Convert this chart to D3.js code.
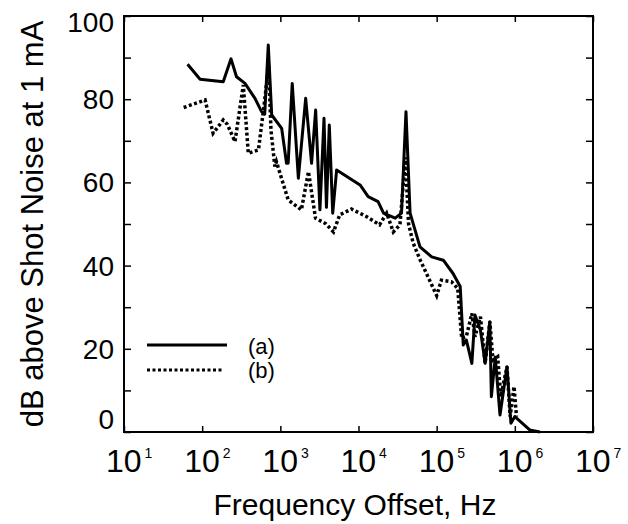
<!DOCTYPE html>
<html>
<head>
<meta charset="utf-8">
<script src="https://cdn.jsdelivr.net/npm/d3@7"></script>
<style>
  body { margin: 0; background: #fff; }
  svg { display: block; }
</style>
</head>
<body>
<svg width="628" height="524"></svg>
<script>
// trace (a): frequency offset (Hz) and dB above shot noise
var freqA = [65, 94, 186, 234, 275, 353, 474, 575, 631, 701, 776, 1040, 1200, 1260, 1420,
    1700, 2110, 2510, 2830, 3210, 3620, 3890, 4230, 4680, 5250, 10470, 13300, 17800,
    20900, 29500, 35500, 40500, 45700, 61200, 86300, 121600, 162000, 200000, 219000,
    240000, 282000, 309000, 363000, 417000, 479000, 501000, 562000, 646000, 794000,
    891000, 1000000, 1550000, 2090000];
var dbA = [88.4, 84.8, 84.2, 89.7, 85.4, 83.8, 80.2, 77, 76.4, 93, 76.2, 73, 64.6, 64.6, 83.8,
    61, 80.2, 64.6, 77.4, 53.4, 75.4, 54, 73.8, 52.6, 63, 59.4, 56.6, 55.4,
    52.6, 51.4, 52.6, 77, 52.6, 44.5, 42.1, 41.3, 38.1, 35, 20.9,
    22.1, 16.5, 28.1, 24.5, 16.5, 26.5, 8.5, 18, 4.1, 15.7,
    2.1, 3.7, 0.5, 0];

// trace (b)
var freqB = [58, 109, 138, 186, 209, 263, 336, 389, 525, 631, 708, 759, 851, 891, 1050,
    1260, 1860, 2290, 2820, 3800, 4790, 5750, 8130, 12600, 18600, 22900, 27900, 33900,
    39800, 43700, 50100, 61700, 77600, 100000, 115000, 155000, 186000, 209000, 240000,
    282000, 309000, 363000, 417000, 479000, 525000, 603000, 661000, 794000, 871000,
    977000, 1050000];
var dbB = [78, 79.8, 71.8, 75, 74, 69.8, 83.4, 67, 67.8, 79.8, 88, 72.6, 63.8, 65, 60.6,
    55.8, 53.4, 62.6, 51.4, 50.1, 48.1, 52.2, 53.6, 51.8, 49.8, 52.6, 48.1, 49.8,
    66, 50, 45.4, 41.3, 37.3, 32.8, 36.5, 36.1, 34.5, 22.5, 23,
    28.5, 22.9, 27.7, 16.5, 26.5, 17.3, 18.1, 8.5, 15.7, 3.7,
    10.9, 3.7];

var xTicks = [1, 2, 3, 4, 5, 6, 7];   // decade exponents
var yTicks = [0, 20, 40, 60, 80, 100];
var yMinor = [0, 10, 20, 30, 40, 50, 60, 70, 80, 90, 100];
var legendNames = ['(a)', '(b)'];

var svg = d3.select('svg');
var font = "'Liberation Sans', Arial, sans-serif";

// plot box ('top' is taken by window, so prefix)
var pLeft = 124, pRight = 593, pTop = 16, pBottom = 432;

var x = d3.scaleLog()
    .domain([10, 1e7])
    .range([pLeft, pRight]);
var y = d3.scaleLinear()
    .domain([0, 100])
    .range([pBottom, pTop]);

var decades = xTicks.map(function(e) { return Math.pow(10, e); });

// inward ticks on all four sides
svg.append('g')
    .attr('transform', 'translate(0,' + pBottom + ')')
    .call(d3.axisBottom(x).tickValues(decades).tickSize(-6).tickFormat(''))
    .call(function(g) { g.select('.domain').remove(); });
svg.append('g')
    .attr('transform', 'translate(0,' + pTop + ')')
    .call(d3.axisTop(x).tickValues(decades).tickSize(-6).tickFormat(''))
    .call(function(g) { g.select('.domain').remove(); });
svg.append('g')
    .attr('transform', 'translate(' + pLeft + ',0)')
    .call(d3.axisLeft(y).tickValues(yMinor).tickSize(-7).tickFormat(''))
    .call(function(g) { g.select('.domain').remove(); });
svg.append('g')
    .attr('transform', 'translate(' + pRight + ',0)')
    .call(d3.axisRight(y).tickValues(yMinor).tickSize(-7).tickFormat(''))
    .call(function(g) { g.select('.domain').remove(); });
svg.selectAll('.tick line')
    .attr('stroke', '#000')
    .attr('stroke-width', 1.5);

// frame
svg.append('rect')
    .attr('x', pLeft)
    .attr('y', pTop)
    .attr('width', pRight - pLeft)
    .attr('height', pBottom - pTop)
    .attr('fill', 'none')
    .attr('stroke', '#000')
    .attr('stroke-width', 2);

// y tick labels
svg.selectAll('.ylab')
    .data(yTicks)
    .enter().append('text')
    .attr('x', pLeft - 10)
    .attr('y', function(d) { return Math.min(Math.max(y(d), 22), 419) + 10; })
    .attr('text-anchor', 'end')
    .style('font-family', font)
    .style('font-size', '28px')
    .text(function(d) { return d; });

// x tick labels 10^n
var xl = svg.selectAll('.xlab')
    .data(xTicks)
    .enter().append('text')
    .attr('x', function(d) { return x(Math.pow(10, d)) - 18; })
    .attr('y', 472)
    .style('font-family', font)
    .style('font-size', '32px');
xl.append('tspan').text('10');
xl.append('tspan')
    .attr('dx', 3)
    .attr('dy', -14)
    .style('font-size', '14px')
    .text(function(d) { return d; });

// axis titles
svg.append('text')
    .attr('x', 355)
    .attr('y', 515)
    .attr('text-anchor', 'middle')
    .style('font-family', font)
    .style('font-size', '30px')
    .text('Frequency Offset, Hz');
svg.append('text')
    .attr('transform', 'translate(43,224) rotate(-90)')
    .attr('text-anchor', 'middle')
    .style('font-family', font)
    .style('font-size', '31px')
    .text('dB above Shot Noise at 1 mA');

// traces
var line = d3.line()
    .x(function(d) { return x(d[0]); })
    .y(function(d) { return y(d[1]); });

svg.append('path')
    .datum(d3.zip(freqB, dbB))
    .attr('d', line)
    .attr('fill', 'none')
    .attr('stroke', '#000')
    .attr('stroke-width', 3.5)
    .attr('stroke-dasharray', '3,2.5');

svg.append('path')
    .datum(d3.zip(freqA, dbA))
    .attr('d', line)
    .attr('fill', 'none')
    .attr('stroke', '#000')
    .attr('stroke-width', 3)
    .attr('stroke-linejoin', 'round');

// legend
var leg = svg.selectAll('.leg')
    .data(legendNames)
    .enter().append('g')
    .attr('transform', function(d, i) { return 'translate(0,' + (345 + i * 25) + ')'; });
leg.append('line')
    .attr('x1', 147)
    .attr('x2', function(d, i) { return i ? 222 : 227; })
    .attr('stroke', '#000')
    .attr('stroke-width', 3)
    .attr('stroke-dasharray', function(d, i) { return i ? '3,2.5' : null; });
leg.append('text')
    .attr('x', 248)
    .attr('y', function(d, i) { return i ? 8 : 9; })
    .style('font-family', font)
    .style('font-size', '22px')
    .text(function(d) { return d; });
</script>
</body>
</html>
